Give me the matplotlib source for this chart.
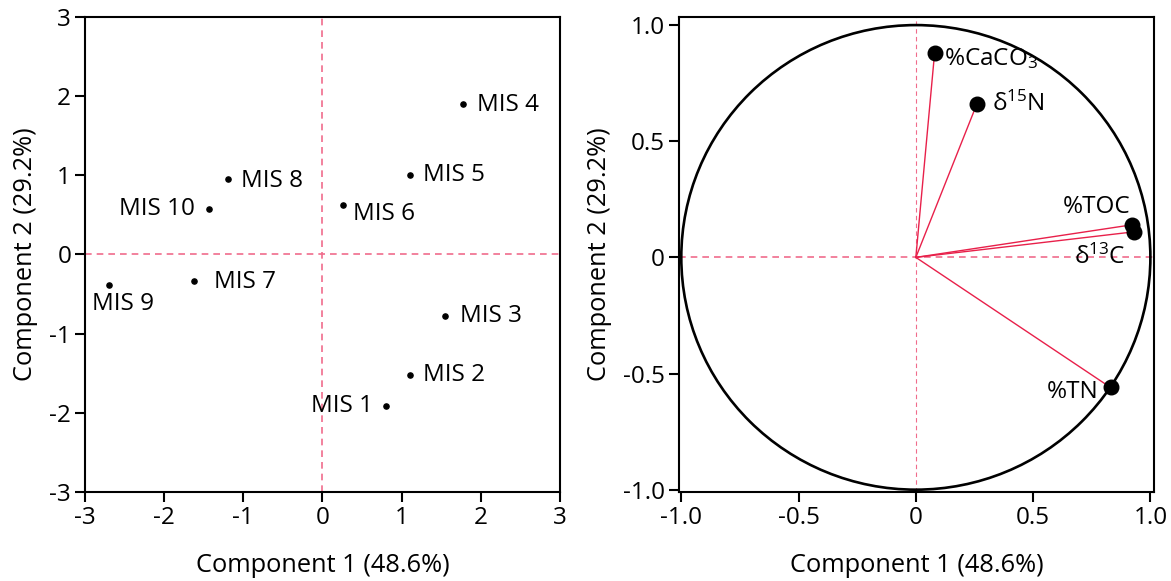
import matplotlib
matplotlib.use("Agg")
import matplotlib.pyplot as plt
from matplotlib.patches import Circle

plt.rcParams['font.family'] = ['Open Sans', 'DejaVu Sans']
plt.rcParams['mathtext.fontset'] = 'custom'
plt.rcParams['mathtext.rm'] = 'Open Sans'
plt.rcParams['mathtext.it'] = 'Open Sans'
plt.rcParams['mathtext.default'] = 'regular'
plt.rcParams['axes.unicode_minus'] = False

# Scores (left panel)
mis_labels = ['MIS 1', 'MIS 2', 'MIS 3', 'MIS 4', 'MIS 5', 'MIS 6', 'MIS 7', 'MIS 8', 'MIS 9', 'MIS 10']
pc1_scores = [0.80, 1.10, 1.55, 1.78, 1.10, 0.26, -1.62, -1.20, -2.70, -1.44]
pc2_scores = [-1.92, -1.52, -0.78, 1.90, 1.00, 0.62, -0.33, 0.95, -0.38, 0.57]

# Loadings (right panel)
var_labels = ['%CaCO$_3$', 'δ$^{15}$N', '%TOC', 'δ$^{13}$C', '%TN']
pc1_load = [0.08, 0.26, 0.92, 0.93, 0.83]
pc2_load = [0.88, 0.66, 0.14, 0.11, -0.56]

xlabel = 'Component 1 (48.6%)'
ylabel = 'Component 2 (29.2%)'

pink = '#f06c8c'
red = '#e8204a'
fs_tick = 17.5
fs_axlab = 18.3
fs_pt = 17.5

fig = plt.figure(figsize=(11.71, 5.81), dpi=100)
ax1 = fig.add_axes([0.0726, 0.1532, 0.4056, 0.8176])
ax2 = fig.add_axes([0.5798, 0.1532, 0.4056, 0.8176])

# Left panel
ax1.axhline(0, color=pink, lw=1.2, ls=(0, (4, 3)), zorder=1)
ax1.axvline(0, color=pink, lw=1.2, ls=(0, (4, 3)), zorder=1)
ax1.scatter(pc1_scores, pc2_scores, s=14, color='black', zorder=3)
offs = {
    'MIS 1': (-9, 0, 'right', 'center'),
    'MIS 2': (10, 0, 'left', 'center'),
    'MIS 3': (11, 0, 'left', 'center'),
    'MIS 4': (10, -1, 'left', 'center'),
    'MIS 5': (10, 0, 'left', 'center'),
    'MIS 6': (7, -6, 'left', 'center'),
    'MIS 7': (14, -1, 'left', 'center'),
    'MIS 8': (10, -1, 'left', 'center'),
    'MIS 9': (-12, -14, 'left', 'center'),
    'MIS 10': (-10, 0, 'right', 'center'),
}
for lab, x, y in zip(mis_labels, pc1_scores, pc2_scores):
    dx, dy, ha, va = offs[lab]
    ax1.annotate(lab, (x, y), xytext=(dx, dy), textcoords='offset points',
                 ha=ha, va=va, fontsize=fs_pt)
ax1.set_xlim(-3, 3)
ax1.set_ylim(-3, 3)
ax1.set_xticks([-3, -2, -1, 0, 1, 2, 3])
ax1.set_yticks([-3, -2, -1, 0, 1, 2, 3])
ax1.set_xlabel(xlabel, fontsize=fs_axlab, labelpad=17)
ax1.set_ylabel(ylabel, fontsize=fs_axlab, labelpad=8)

# Right panel
ax2.axhline(0, color=pink, lw=1.2, ls=(0, (4, 3)), zorder=1)
ax2.axvline(0, color=pink, lw=0.8, ls=(0, (4, 3)), zorder=1)
ax2.add_patch(Circle((0, 0), 1.0, fill=False, edgecolor='black', lw=1.9, zorder=2))
for x, y in zip(pc1_load, pc2_load):
    ax2.plot([0, x], [0, y], color=red, lw=1.0, zorder=3)
ax2.scatter(pc1_load, pc2_load, s=110, color='black', zorder=4)
offs2 = [
    (7, -4, 'left', 'center'),
    (11, 0, 'left', 'center'),
    (-1, 13, 'right', 'center'),
    (-6, -18, 'right', 'center'),
    (-9, -3, 'right', 'center'),
]
for lab, x, y, (dx, dy, ha, va) in zip(var_labels, pc1_load, pc2_load, offs2):
    ax2.annotate(lab, (x, y), xytext=(dx, dy), textcoords='offset points',
                 ha=ha, va=va, fontsize=fs_pt)
ax2.set_xlim(-1.01, 1.015)
ax2.set_ylim(-1.01, 1.035)
ax2.set_xticks([-1.0, -0.5, 0, 0.5, 1.0])
ax2.set_xticklabels(['-1.0', '-0.5', '0', '0.5', '1.0'])
ax2.set_yticks([-1.0, -0.5, 0, 0.5, 1.0])
ax2.set_yticklabels(['-1.0', '-0.5', '0', '0.5', '1.0'])
ax2.set_xlabel(xlabel, fontsize=fs_axlab, labelpad=17)
ax2.set_ylabel(ylabel, fontsize=fs_axlab, labelpad=8)

for ax in (ax1, ax2):
    for sp in ax.spines.values():
        sp.set_linewidth(1.5)
    ax.tick_params(axis='both', direction='out', length=7, width=1.5,
                   labelsize=fs_tick, pad=3)

fig.savefig('out.png', dpi=100)
